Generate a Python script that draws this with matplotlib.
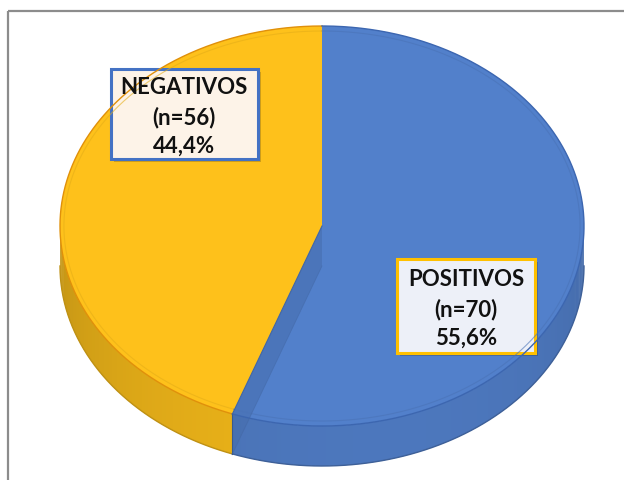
import numpy as np
import matplotlib.pyplot as plt
from matplotlib.patches import Polygon, FancyBboxPatch
from matplotlib.colors import to_rgb

# data
categories = ['NEGATIVOS', 'POSITIVOS']
counts = [56, 70]
colors = ['#FEC11B', '#5280CB']
edge_colors = ['#E0900A', '#3C66B0']
label_fill = ['#FDF3E8', '#EDF0F8']
label_edge = ['#4472C4', '#FFC000']
label_pos = [(184, 115), (466, 307)]

total = sum(counts)
fracs = [c / total for c in counts]

fig = plt.figure(figsize=(6.24, 4.81), dpi=100)
ax = fig.add_axes([0, 0, 1, 1])
ax.set_xlim(0, 624)
ax.set_ylim(481, 0)
ax.axis('off')

# chart frame (only left/top visible in the crop)
ax.plot([8, 8], [481, 12], color='#8c8c8c', lw=1.6, solid_capstyle='butt')
ax.plot([8, 624], [12, 12], color='#8c8c8c', lw=1.6, solid_capstyle='butt')

# pie geometry (pixels)
cx, cy, a, b, depth = 322, 227, 262, 200, 40


def pt(t, dy=0):
    r = np.radians(t)
    return cx + a * np.cos(r), cy - b * np.sin(r) + dy


def shade(col, f):
    return tuple(min(1, c * f) for c in to_rgb(col))


# wedge angle ranges, starting at 12 o'clock going counter-clockwise
starts, ends = [], []
ang = 90.0
for f in fracs:
    starts.append(ang)
    ends.append(ang + 360 * f)
    ang += 360 * f

# side walls (only the front half shows)
for s, e, col, ec in zip(starts, ends, colors, edge_colors):
    lo, hi = max(s, 180), min(e, 360)
    if hi <= lo:
        continue
    n = int(hi - lo) + 1
    ts = np.linspace(lo, hi, n + 1)
    for t0, t1 in zip(ts[:-1], ts[1:]):
        tt = np.linspace(t0, min(t1 + 0.6, hi), 4)
        top = [pt(t) for t in tt]
        bot = [pt(t, depth) for t in tt[::-1]]
        f = 0.80 + 0.13 * np.cos(np.radians((t0 + t1) / 2 - 285))
        ax.add_patch(Polygon(top + bot, closed=True, facecolor=shade(col, f),
                             edgecolor='none'))
    tt = np.linspace(lo, hi, 200)
    xs, ys = zip(*[pt(t, depth) for t in tt])
    ax.plot(xs, ys, color=shade(col, 0.75), lw=1.0)

# top faces
for s, e, col, ec in zip(starts, ends, colors, edge_colors):
    tt = np.linspace(s, e, 400)
    verts = [(cx, cy)] + [pt(t) for t in tt]
    ax.add_patch(Polygon(verts, closed=True, facecolor=col, edgecolor='none'))
    xs, ys = zip(*[pt(t) for t in tt])
    ax.plot(xs, ys, color=ec, lw=1.0)
    # faint inner bevel line
    xs2 = [cx + (x - cx) * 0.985 for x in xs]
    ys2 = [cy + (y - cy) * 0.975 for y in ys]
    ax.plot(xs2, ys2, color=shade(col, 0.9), lw=0.8, alpha=0.6)

# see-through cut face of the front divider
t_cut = ends[0]
fx, fy = pt(t_cut)
ax.add_patch(Polygon([(cx, cy), (fx, fy), (fx, fy + depth), (cx, cy + depth)],
                     closed=True, facecolor=shade(colors[1], 0.85),
                     edgecolor='none', alpha=0.55))
ax.plot([fx, fx], [fy, fy + depth], color=shade(colors[1], 0.7), lw=0.8)
ax.plot([cx, fx], [cy, fy], color=shade(colors[1], 0.8), lw=0.8)
ax.plot([fx, cx], [fy + depth, cy + depth], color=shade(colors[1], 0.8), lw=0.6, alpha=0.5)

# labels
box_w, box_h = [147, 138], [90, 94]
for i, (cat, c, f) in enumerate(zip(categories, counts, fracs)):
    x, y = label_pos[i]
    w, h = box_w[i], box_h[i]
    ax.add_patch(FancyBboxPatch((x - w / 2 + 3, y - h / 2 + 3), w, h,
                                boxstyle='square,pad=0', facecolor='#000000',
                                edgecolor='none', alpha=0.18))
    ax.add_patch(FancyBboxPatch((x - w / 2, y - h / 2), w, h,
                                boxstyle='square,pad=0', facecolor=label_fill[i],
                                edgecolor=label_edge[i], lw=2.2))
    pct = f'{f * 100:.1f}'.replace('.', ',')
    ax.text(x, y + 2, f'{cat}\n(n={c})\n{pct}%', ha='center', va='center',
            fontsize=16, fontweight='bold', family='Lato', color='#111111',
            linespacing=1.45)

fig.savefig('out.png', dpi=100)
